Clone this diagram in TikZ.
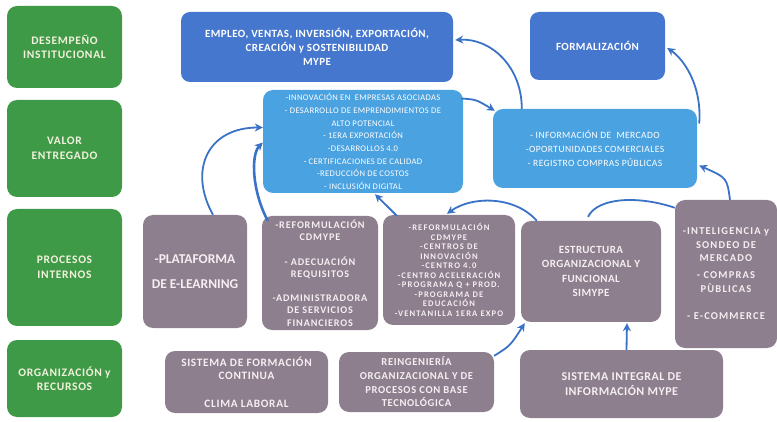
\documentclass[tikz,border=0pt]{standalone}
\usepackage{fontspec}
\setmainfont{Carlito}
\usetikzlibrary{calc,arrows.meta}
\definecolor{grn}{HTML}{3E9A47}
\definecolor{dblue}{HTML}{4677CF}
\definecolor{lblue}{HTML}{4BA2E0}
\definecolor{gry}{HTML}{8D7F8D}
\definecolor{arr}{HTML}{3A72C6}
\definecolor{gtxt}{HTML}{F2F2DC}
\definecolor{ptxt}{HTML}{F5EEF2}
\tikzset{
  gbox/.style={fill=grn, rounded corners=10pt, text=gtxt, align=center, inner sep=0pt,
     font=\fontsize{11.5}{14.5}\selectfont\bfseries\addfontfeatures{LetterSpace=6}},
  dbox/.style={fill=dblue, rounded corners=9pt, text=white, align=center, inner sep=0pt,
     font=\fontsize{11}{14}\selectfont\bfseries\addfontfeatures{LetterSpace=4}},
  lbox/.style={fill=lblue, rounded corners=10pt, text=white, align=center, inner sep=0pt},
  pbox/.style={fill=gry, rounded corners=10pt, text=ptxt, align=center, inner sep=0pt},
  con/.style={draw=arr, line width=1.8pt, -{Stealth[length=8pt,width=8pt]}},
  conplain/.style={draw=arr, line width=1.8pt}
}
\begin{document}
\begin{tikzpicture}[x=1pt,y=-1pt]
\useasboundingbox (0,0) rectangle (777,422);
% green column
\node[gbox, minimum width=115pt, minimum height=82pt] (g1) at (64.5,47) {DESEMPEÑO\\INSTITUCIONAL};
\node[gbox, minimum width=115pt, minimum height=97pt] (g2) at (64.5,148.5) {VALOR\\ENTREGADO};
\node[gbox, minimum width=115pt, minimum height=117pt] (g3) at (64.5,267.5) {PROCESOS\\INTERNOS};
\node[gbox, minimum width=115pt, minimum height=77pt] (g4) at (64.5,378.5) {ORGANIZACIÓN y\\RECURSOS};
% top row
\node[dbox, minimum width=272pt, minimum height=70pt] (db1) at (317,47) {EMPLEO, VENTAS, INVERSIÓN, EXPORTACIÓN,\\CREACIÓN y SOSTENIBILIDAD\\MYPE};
\node[dbox, minimum width=135pt, minimum height=68pt] (db2) at (597.5,46) {FORMALIZACIÓN};
% value row
\node[lbox, minimum width=200pt, minimum height=103pt, font=\fontsize{8.6}{12.7}\selectfont\addfontfeatures{LetterSpace=4}] (lb1) at (363,141.5)
 {-INNOVACIÓN EN\ \ EMPRESAS ASOCIADAS\\- DESARROLLO DE EMPRENDIMIENTOS DE\\ALTO POTENCIAL\\- 1ERA EXPORTACIÓN\\-DESARROLLOS 4.0\\- CERTIFICACIONES DE CALIDAD\\-REDUCCIÓN DE COSTOS\\- INCLUSIÓN DIGITAL};
\node[lbox, minimum width=204pt, minimum height=79pt, font=\fontsize{9.6}{14}\selectfont\addfontfeatures{LetterSpace=4}] (lb2) at (595,148.5)
 {- INFORMACIÓN DE\ \ MERCADO\\-OPORTUNIDADES COMERCIALES\\- REGISTRO COMPRAS PÚBLICAS};
% processes row
\node[pbox, minimum width=104pt, minimum height=113pt, font=\fontsize{13.5}{25}\selectfont\bfseries] (p1) at (195,271.5) {-PLATAFORMA\\DE E-LEARNING};
\node[pbox, minimum width=116pt, minimum height=114pt, font=\fontsize{10.2}{12.5}\selectfont\bfseries\addfontfeatures{LetterSpace=8}] (p2) at (320,273)
 {-REFORMULACIÓN\\CDMYPE\\[12pt]- ADECUACIÓN\\REQUISITOS\\[11pt]-ADMINISTRADORA\\DE SERVICIOS\\FINANCIEROS};
\node[pbox, minimum width=132pt, minimum height=110pt, font=\fontsize{8.6}{9.5}\selectfont\bfseries\addfontfeatures{LetterSpace=13}] (p3) at (449,270)
 {-REFORMULACIÓN\\CDMYPE\\-CENTROS DE\\INNOVACIÓN\\-CENTRO 4.0\\-CENTRO ACELERACIÓN\\-PROGRAMA Q + PROD.\\-PROGRAMA DE\\EDUCACIÓN\\-VENTANILLA 1ERA EXPO};
\node[pbox, minimum width=140pt, minimum height=101pt, font=\fontsize{11}{14.5}\selectfont\bfseries\addfontfeatures{LetterSpace=4}] (p4) at (591,271.5)
 {ESTRUCTURA\\ORGANIZACIONAL Y\\FUNCIONAL\\SIMYPE};
\node[pbox, minimum width=102pt, minimum height=148pt, font=\fontsize{10.5}{13.5}\selectfont\bfseries\addfontfeatures{LetterSpace=11}] (p5) at (726,274)
 {-INTELIGENCIA y\\SONDEO DE\\MERCADO\\[3.5pt]- COMPRAS\\PÙBLICAS\\[14pt]- E-COMMERCE};
% resources row
\node[pbox, minimum width=163pt, minimum height=62pt, font=\fontsize{11.3}{13.7}\selectfont\bfseries\addfontfeatures{LetterSpace=6}] (r1) at (246.5,382)
 {SISTEMA DE FORMACIÓN\\CONTINUA\\[13.5pt]CLIMA LABORAL};
\node[pbox, minimum width=155pt, minimum height=60pt, font=\fontsize{10.6}{13.7}\selectfont\bfseries\addfontfeatures{LetterSpace=6}] (r2) at (416.5,382)
 {REINGENIERÍA\\ORGANIZACIONAL Y DE\\PROCESOS CON BASE\\TECNOLÓGICA};
\node[pbox, minimum width=203pt, minimum height=68pt, font=\fontsize{12}{15}\selectfont\bfseries\addfontfeatures{LetterSpace=4}] (r3) at (621.5,384)
 {SISTEMA INTEGRAL DE\\INFORMACIÓN MYPE};
% connectors
\draw[con] ($(lb2.north west)+(29,0)$) .. controls +(0,-43) and +(35,-2) .. ($(db1.east)+(2,-7)$);
\draw[con] ($(lb1.east)+(-2,-43)$) .. controls +(15,1) .. ($(lb2.north west)+(2,2)$);
\draw[con] ($(lb2.east)+(2,-25)$) .. controls +(3,-40) and +(15,10) .. ($(db2.east)+(2,2)$);
\draw[con] ($(p5.north)+(4,0)$) .. controls +(-3,-22) .. ($(lb2.east)+(2,17)$);
\draw[con] ($(p1.north)+(18,0)$) .. controls +(-25,-45) and +(-55,0) .. ($(lb1.west)+(0,-14)$);
\draw[con, line width=2.6pt] ($(p2.north west)+(6,5)$) .. controls +(-16,-30) and +(-12,12) .. ($(lb1.west)+(0,1)$);
\draw[con] ($(p3.north west)+(14,1)$) .. controls +(-10,-10) .. ($(lb1.south)+(12,1)$);
\draw[con] ($(p4.north west)+(16,0)$) .. controls +(-22,-25) and +(25,-18) .. ($(p3.north)+(-2,-1)$);
\draw[conplain] ($(p5.north west)+(0,8)$) .. controls +(-35,-12) and +(10,-20) .. ($(p4.north)+(-3,-4)$);
\draw[con] ($(r2.north east)+(0,4)$) .. controls +(16,-10) .. ($(p4.south west)+(4,1)$);
\draw[con] ($(r3.north)+(5,0)$) -- ($(p4.south)+(36,1)$);
\end{tikzpicture}
\end{document}
